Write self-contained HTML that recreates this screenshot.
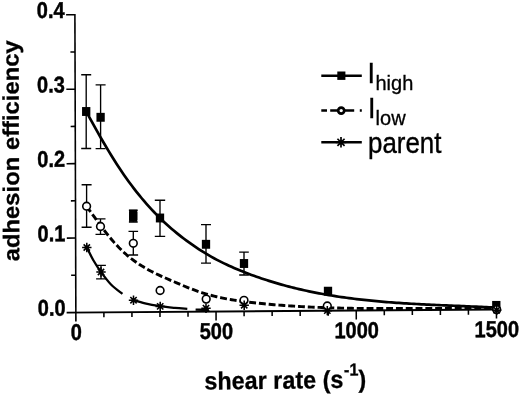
<!DOCTYPE html>
<html><head><meta charset="utf-8"><title>adhesion efficiency vs shear rate</title>
<style>
html,body{margin:0;padding:0;background:#fff;}
body{width:520px;height:395px;overflow:hidden;}
svg{display:block;filter:blur(0.45px);}
text{font-family:"Liberation Sans",sans-serif;fill:#000;}
.tk{font-size:20px;font-weight:bold;stroke:#000;stroke-width:0.4px;}
.ttl{font-weight:bold;stroke:#000;stroke-width:0.3px;}
.lg{font-size:27px;stroke:#000;stroke-width:0.35px;}.sb{font-size:20px;stroke:#000;stroke-width:0.3px;}
</style></head>
<body>
<svg width="520" height="395" viewBox="0 0 520 395">
<rect width="520" height="395" fill="#fff"/>
<g transform="matrix(1 -0.00710 0.00320 1 -1.000 0.539)">
<path d="M75.85 13.90 V321.60" stroke="#000" stroke-width="1.6" fill="none"/>
<path d="M66.65 312.50 H496.95" stroke="#000" stroke-width="1.85" fill="none"/>
<path d="M71.25 275.27 H75.85 M67.05 238.05 H75.85 M71.25 200.82 H75.85 M67.05 163.60 H75.85 M71.25 126.38 H75.85 M67.05 89.15 H75.85 M71.25 51.93 H75.85 M67.05 14.70 H75.85 M103.89 312.50 V317.50 M131.93 312.50 V317.50 M159.97 312.50 V317.50 M188.01 312.50 V317.50 M216.05 312.50 V321.60 M244.09 312.50 V317.50 M272.13 312.50 V317.50 M300.17 312.50 V317.50 M328.21 312.50 V317.50 M356.25 312.50 V321.60 M384.29 312.50 V317.50 M412.33 312.50 V317.50 M440.37 312.50 V317.50 M468.41 312.50 V317.50 M496.45 312.50 V321.60 " stroke="#000" stroke-width="1.55" fill="none"/>
<text transform="translate(65.6 315.60) scale(1 1.14)" text-anchor="end" class="tk">0.0</text>
<text transform="translate(65.6 241.15) scale(1 1.14)" text-anchor="end" class="tk">0.1</text>
<text transform="translate(65.6 166.70) scale(1 1.14)" text-anchor="end" class="tk">0.2</text>
<text transform="translate(65.6 92.25) scale(1 1.14)" text-anchor="end" class="tk">0.3</text>
<text transform="translate(65.6 17.80) scale(1 1.14)" text-anchor="end" class="tk">0.4</text>
<text transform="translate(76.15 340.0) scale(1 1.14)" text-anchor="middle" class="tk">0</text>
<text transform="translate(216.35 340.0) scale(1 1.14)" text-anchor="middle" class="tk">500</text>
<text transform="translate(356.55 340.0) scale(1 1.14)" text-anchor="middle" class="tk">1000</text>
<text transform="translate(496.75 340.0) scale(1 1.14)" text-anchor="middle" class="tk">1500</text>
<text transform="translate(204.2 390.5) rotate(-0.26) scale(1 1.065)" class="ttl" style="font-size:23.2px;letter-spacing:0.09px">shear rate (s<tspan dx="0.5" dy="-11.6" style="font-size:16.2px">-1</tspan><tspan dx="-0.2" dy="11.6">)</tspan></text>
<text transform="translate(19.4 260.8) rotate(-90) scale(1.054 1)" class="ttl" style="font-size:22.6px">adhesion efficiency</text>
</g>
<path d="M86.50 111.87 L89.00 116.52 L91.50 121.13 L94.00 125.68 L96.50 130.17 L99.00 134.60 L101.50 138.97 L104.00 143.27 L106.50 147.50 L109.00 151.65 L111.50 155.73 L114.00 159.73 L116.50 163.65 L119.00 167.49 L121.50 171.24 L124.00 174.89 L126.50 178.46 L129.00 181.93 L131.50 185.31 L134.00 188.61 L136.50 191.82 L139.00 194.95 L141.50 197.99 L144.00 200.95 L146.50 203.84 L149.00 206.64 L151.50 209.37 L154.00 212.02 L156.50 214.61 L159.00 217.12 L161.50 219.56 L164.00 221.93 L166.50 224.24 L169.00 226.48 L171.50 228.66 L174.00 230.79 L176.50 232.85 L179.00 234.87 L181.50 236.83 L184.00 238.74 L186.50 240.60 L189.00 242.42 L191.50 244.19 L194.00 245.93 L196.50 247.62 L199.00 249.27 L201.50 250.88 L204.00 252.44 L206.50 253.96 L209.00 255.43 L211.50 256.86 L214.00 258.24 L216.50 259.58 L219.00 260.88 L221.50 262.14 L224.00 263.37 L226.50 264.56 L229.00 265.71 L231.50 266.84 L234.00 267.93 L236.50 269.00 L239.00 270.04 L241.50 271.05 L244.00 272.04 L246.50 273.02 L249.00 273.97 L251.50 274.90 L254.00 275.81 L256.50 276.70 L259.00 277.57 L261.50 278.43 L264.00 279.26 L266.50 280.08 L269.00 280.87 L271.50 281.65 L274.00 282.41 L276.50 283.16 L279.00 283.88 L281.50 284.59 L284.00 285.28 L286.50 285.96 L289.00 286.62 L291.50 287.26 L294.00 287.89 L296.50 288.50 L299.00 289.09 L301.50 289.67 L304.00 290.24 L306.50 290.79 L309.00 291.32 L311.50 291.85 L314.00 292.35 L316.50 292.85 L319.00 293.33 L321.50 293.79 L324.00 294.25 L326.50 294.69 L329.00 295.11 L331.50 295.53 L334.00 295.93 L336.50 296.33 L339.00 296.71 L341.50 297.07 L344.00 297.43 L346.50 297.78 L349.00 298.11 L351.50 298.44 L354.00 298.75 L356.50 299.06 L359.00 299.36 L361.50 299.64 L364.00 299.92 L366.50 300.19 L369.00 300.44 L371.50 300.70 L374.00 300.94 L376.50 301.17 L379.00 301.40 L381.50 301.62 L384.00 301.83 L386.50 302.03 L389.00 302.23 L391.50 302.42 L394.00 302.61 L396.50 302.78 L399.00 302.96 L401.50 303.12 L404.00 303.29 L406.50 303.44 L409.00 303.59 L411.50 303.74 L414.00 303.88 L416.50 304.02 L419.00 304.16 L421.50 304.29 L424.00 304.41 L426.50 304.54 L429.00 304.66 L431.50 304.78 L434.00 304.89 L436.50 305.01 L439.00 305.12 L441.50 305.23 L444.00 305.34 L446.50 305.44 L449.00 305.55 L451.50 305.66 L454.00 305.76 L456.50 305.86 L459.00 305.97 L461.50 306.07 L464.00 306.18 L466.50 306.28 L469.00 306.39 L471.50 306.50 L474.00 306.60 L476.50 306.72 L479.00 306.83 L481.50 306.94 L484.00 307.06 L486.50 307.18 L489.00 307.30 L491.50 307.42 L494.00 307.55 L496.30 307.67" stroke="#000" stroke-width="2.7" fill="none" stroke-linejoin="round"/>
<path d="M86.60 206.39 L89.10 209.80 L91.60 213.24 L94.10 216.69 L96.60 220.12 L99.10 223.53 L101.60 226.88 L104.10 230.17 L106.60 233.38 L109.10 236.49 L111.60 239.49 L114.10 242.37 L116.60 245.12 L119.10 247.74 L121.60 250.22 L124.10 252.56 L126.60 254.78 L129.10 256.89 L131.60 258.87 L134.10 260.75 L136.60 262.53 L139.10 264.22 L141.60 265.82 L144.10 267.34 L146.60 268.79 L149.10 270.17 L151.60 271.49 L154.10 272.76 L156.60 273.98 L159.10 275.16 L161.60 276.31 L164.10 277.44 L166.60 278.54 L169.10 279.63 L171.60 280.71 L174.10 281.79 L176.60 282.86 L179.10 283.93 L181.60 284.99 L184.10 286.03 L186.60 287.05 L189.10 288.05 L191.60 289.02 L194.10 289.96 L196.60 290.87 L199.10 291.74 L201.60 292.57 L204.10 293.35 L206.60 294.10 L209.10 294.81 L211.60 295.48 L214.10 296.12 L216.60 296.72 L219.10 297.30 L221.60 297.84 L224.10 298.35 L226.60 298.84 L229.10 299.30 L231.60 299.73 L234.10 300.14 L236.60 300.53 L239.10 300.90 L241.60 301.25 L244.10 301.59 L246.60 301.91 L249.10 302.21 L251.60 302.50 L254.10 302.78 L256.60 303.05 L259.10 303.31 L261.60 303.56 L264.10 303.81 L266.60 304.05 L269.10 304.27 L271.60 304.50 L274.10 304.71 L276.60 304.92 L279.10 305.12 L281.60 305.31 L284.10 305.49 L286.60 305.67 L289.10 305.84 L291.60 306.01 L294.10 306.17 L296.60 306.32 L299.10 306.47 L301.60 306.61 L304.10 306.74 L306.60 306.87 L309.10 306.99 L311.60 307.11 L314.10 307.22 L316.60 307.32 L319.10 307.42 L321.60 307.52 L324.10 307.61 L326.60 307.69 L329.10 307.77 L331.60 307.85 L334.10 307.92 L336.60 307.98 L339.10 308.05 L341.60 308.10 L344.10 308.16 L346.60 308.21 L349.10 308.25 L351.60 308.29 L354.10 308.33 L356.60 308.37 L359.10 308.40 L361.60 308.43 L364.10 308.45 L366.60 308.47 L369.10 308.49 L371.60 308.51 L374.10 308.52 L376.60 308.54 L379.10 308.54 L381.60 308.55 L384.10 308.56 L386.60 308.56 L389.10 308.56 L391.60 308.56 L394.10 308.55 L396.60 308.55 L399.10 308.54 L401.60 308.54 L404.10 308.53 L406.60 308.52 L409.10 308.51 L411.60 308.50 L414.10 308.49 L416.60 308.47 L419.10 308.46 L421.60 308.45 L424.10 308.43 L426.60 308.42 L429.10 308.41 L431.60 308.39 L434.10 308.38 L436.60 308.37 L439.10 308.36 L441.60 308.34 L444.10 308.33 L446.60 308.32 L449.10 308.31 L451.60 308.31 L454.10 308.30 L456.60 308.29 L459.10 308.29 L461.60 308.29 L464.10 308.29 L466.60 308.29 L469.10 308.29 L471.60 308.30 L474.10 308.31 L476.60 308.32 L479.10 308.33 L481.60 308.34 L484.10 308.36 L486.60 308.38 L489.10 308.41 L491.60 308.43 L494.10 308.46 L496.50 308.49" stroke="#000" stroke-width="2.9" fill="none" stroke-linejoin="round" stroke-dasharray="6.9 2.9" stroke-dashoffset="0"/>
<path d="M86.80 247.50 C87.92 249.67 91.13 256.42 93.50 260.50 C95.87 264.58 98.08 268.00 101.00 272.00 C103.92 276.00 107.43 280.85 111.00 284.50 C114.57 288.15 120.50 292.33 122.40 293.90" stroke="#000" stroke-width="2.3" fill="none"/>
<path d="M132.00 299.60 C134.17 300.23 140.30 302.30 145.00 303.40 C149.70 304.50 155.20 305.45 160.20 306.20 C165.20 306.95 170.48 307.45 175.00 307.90 C179.52 308.35 185.25 308.73 187.30 308.90" stroke="#000" stroke-width="2.3" fill="none"/>
<path d="M195.60 309.60 C197.80 309.65 206.60 309.85 208.80 309.90" stroke="#000" stroke-width="2.3" fill="none"/>
<path d="M86.20 74.70 V148.50 M81.20 74.70 H91.20 M81.20 148.50 H91.20" stroke="#000" stroke-width="1.35" fill="none"/>
<path d="M100.60 84.80 V148.60 M95.60 84.80 H105.60 M95.60 148.60 H105.60" stroke="#000" stroke-width="1.35" fill="none"/>
<path d="M133.30 210.20 V222.00 M128.90 210.20 H137.70 M128.90 222.00 H137.70" stroke="#000" stroke-width="1.35" fill="none"/>
<path d="M160.00 200.20 V236.30 M154.80 200.20 H165.20 M154.80 236.30 H165.20" stroke="#000" stroke-width="1.35" fill="none"/>
<path d="M206.00 224.60 V263.10 M201.00 224.60 H211.00 M201.00 263.10 H211.00" stroke="#000" stroke-width="1.35" fill="none"/>
<path d="M244.00 252.10 V275.00 M239.20 252.10 H248.80 M239.20 275.00 H248.80" stroke="#000" stroke-width="1.35" fill="none"/>
<path d="M86.60 184.70 V227.20 M81.60 184.70 H91.60 M81.60 227.20 H91.60" stroke="#000" stroke-width="1.35" fill="none"/>
<path d="M100.50 218.90 V234.30 M95.50 218.90 H105.50 M95.50 234.30 H105.50" stroke="#000" stroke-width="1.35" fill="none"/>
<path d="M133.30 231.40 V255.00 M128.50 231.40 H138.10 M128.50 255.00 H138.10" stroke="#000" stroke-width="1.35" fill="none"/>
<path d="M101.00 265.30 V278.80 M96.10 265.30 H105.90 M96.10 278.80 H105.90" stroke="#000" stroke-width="1.35" fill="none"/>
<rect x="82.05" y="107.05" width="8.30" height="8.90" fill="#000"/>
<rect x="96.45" y="112.85" width="8.30" height="8.90" fill="#000"/>
<rect x="129.15" y="211.55" width="8.30" height="8.90" fill="#000"/>
<rect x="155.85" y="213.55" width="8.30" height="8.90" fill="#000"/>
<rect x="201.85" y="239.85" width="8.30" height="8.90" fill="#000"/>
<rect x="239.85" y="259.05" width="8.30" height="8.90" fill="#000"/>
<rect x="323.85" y="286.75" width="8.30" height="8.90" fill="#000"/>
<rect x="492.15" y="300.95" width="8.30" height="8.90" fill="#000"/>
<rect x="129.1" y="209.8" width="8.0" height="12.0" fill="#000"/>
<circle cx="86.60" cy="206.20" r="3.85" fill="#fff" stroke="#000" stroke-width="1.6"/>
<circle cx="100.50" cy="226.50" r="3.85" fill="#fff" stroke="#000" stroke-width="1.6"/>
<circle cx="133.30" cy="243.30" r="3.85" fill="#fff" stroke="#000" stroke-width="1.6"/>
<circle cx="160.10" cy="290.50" r="3.85" fill="#fff" stroke="#000" stroke-width="1.6"/>
<circle cx="206.20" cy="299.10" r="3.85" fill="#fff" stroke="#000" stroke-width="1.6"/>
<circle cx="244.00" cy="300.40" r="3.85" fill="#fff" stroke="#000" stroke-width="1.6"/>
<circle cx="327.30" cy="306.00" r="3.85" fill="#fff" stroke="#000" stroke-width="1.6"/>
<circle cx="496.70" cy="309.60" r="3.85" fill="#fff" stroke="#000" stroke-width="1.6"/>
<path d="M82.10 247.50 L91.50 247.50 M83.64 244.34 L89.96 250.66 M86.80 242.80 L86.80 252.20 M89.96 244.34 L83.64 250.66 " stroke="#000" stroke-width="1.55" fill="none"/>
<path d="M96.30 272.00 L105.70 272.00 M97.84 268.84 L104.16 275.16 M101.00 267.30 L101.00 276.70 M104.16 268.84 L97.84 275.16 " stroke="#000" stroke-width="1.55" fill="none"/>
<path d="M128.80 300.20 L138.20 300.20 M130.34 297.04 L136.66 303.36 M133.50 295.50 L133.50 304.90 M136.66 297.04 L130.34 303.36 " stroke="#000" stroke-width="1.55" fill="none"/>
<path d="M155.50 306.40 L164.90 306.40 M157.04 303.24 L163.36 309.56 M160.20 301.70 L160.20 311.10 M163.36 303.24 L157.04 309.56 " stroke="#000" stroke-width="1.55" fill="none"/>
<path d="M201.30 308.20 L210.70 308.20 M202.84 305.04 L209.16 311.36 M206.00 303.50 L206.00 312.90 M209.16 305.04 L202.84 311.36 " stroke="#000" stroke-width="1.55" fill="none"/>
<path d="M239.50 305.20 L248.90 305.20 M241.04 302.04 L247.36 308.36 M244.20 300.50 L244.20 309.90 M247.36 302.04 L241.04 308.36 " stroke="#000" stroke-width="1.55" fill="none"/>
<path d="M322.60 310.60 L332.00 310.60 M324.14 307.44 L330.46 313.76 M327.30 305.90 L327.30 315.30 M330.46 307.44 L324.14 313.76 " stroke="#000" stroke-width="1.55" fill="none"/>
<path d="M492.00 310.20 L501.40 310.20 M493.54 307.04 L499.86 313.36 M496.70 305.50 L496.70 314.90 M499.86 307.04 L493.54 313.36 " stroke="#000" stroke-width="1.55" fill="none"/>
<g>
<path d="M321.3 75.7 H361.8" stroke="#000" stroke-width="2.5"/>
<rect x="337.3" y="71.5" width="8.1" height="8.4" fill="#000"/>
<path d="M321.3 110.6 H327 M330.2 110.6 H337.5 M345 110.6 H354.2 M359.8 110.6 H361.8" stroke="#000" stroke-width="2.5"/>
<circle cx="341.2" cy="110.6" r="3.05" fill="#fff" stroke="#000" stroke-width="2.7"/>
<path d="M321.3 142.3 H361.8" stroke="#000" stroke-width="2.5"/>
<path d="M335.70 142.30 L346.30 142.30 M337.44 138.74 L344.56 145.86 M341.00 137.00 L341.00 147.60 M344.56 138.74 L337.44 145.86 " stroke="#000" stroke-width="1.70" fill="none"/>
<text transform="translate(367.6 82.7) scale(1 1.08)" class="lg">I</text>
<text x="375.5" y="89.6" class="sb">high</text>
<text transform="translate(368.0 118.4) scale(1 1.08)" class="lg">I</text>
<text x="375.6" y="124.8" class="sb">low</text>
<text transform="translate(368.0 152.5) scale(1 1.08)" class="lg" textLength="73.5" lengthAdjust="spacingAndGlyphs">parent</text>
</g>
</svg>
</body></html>
